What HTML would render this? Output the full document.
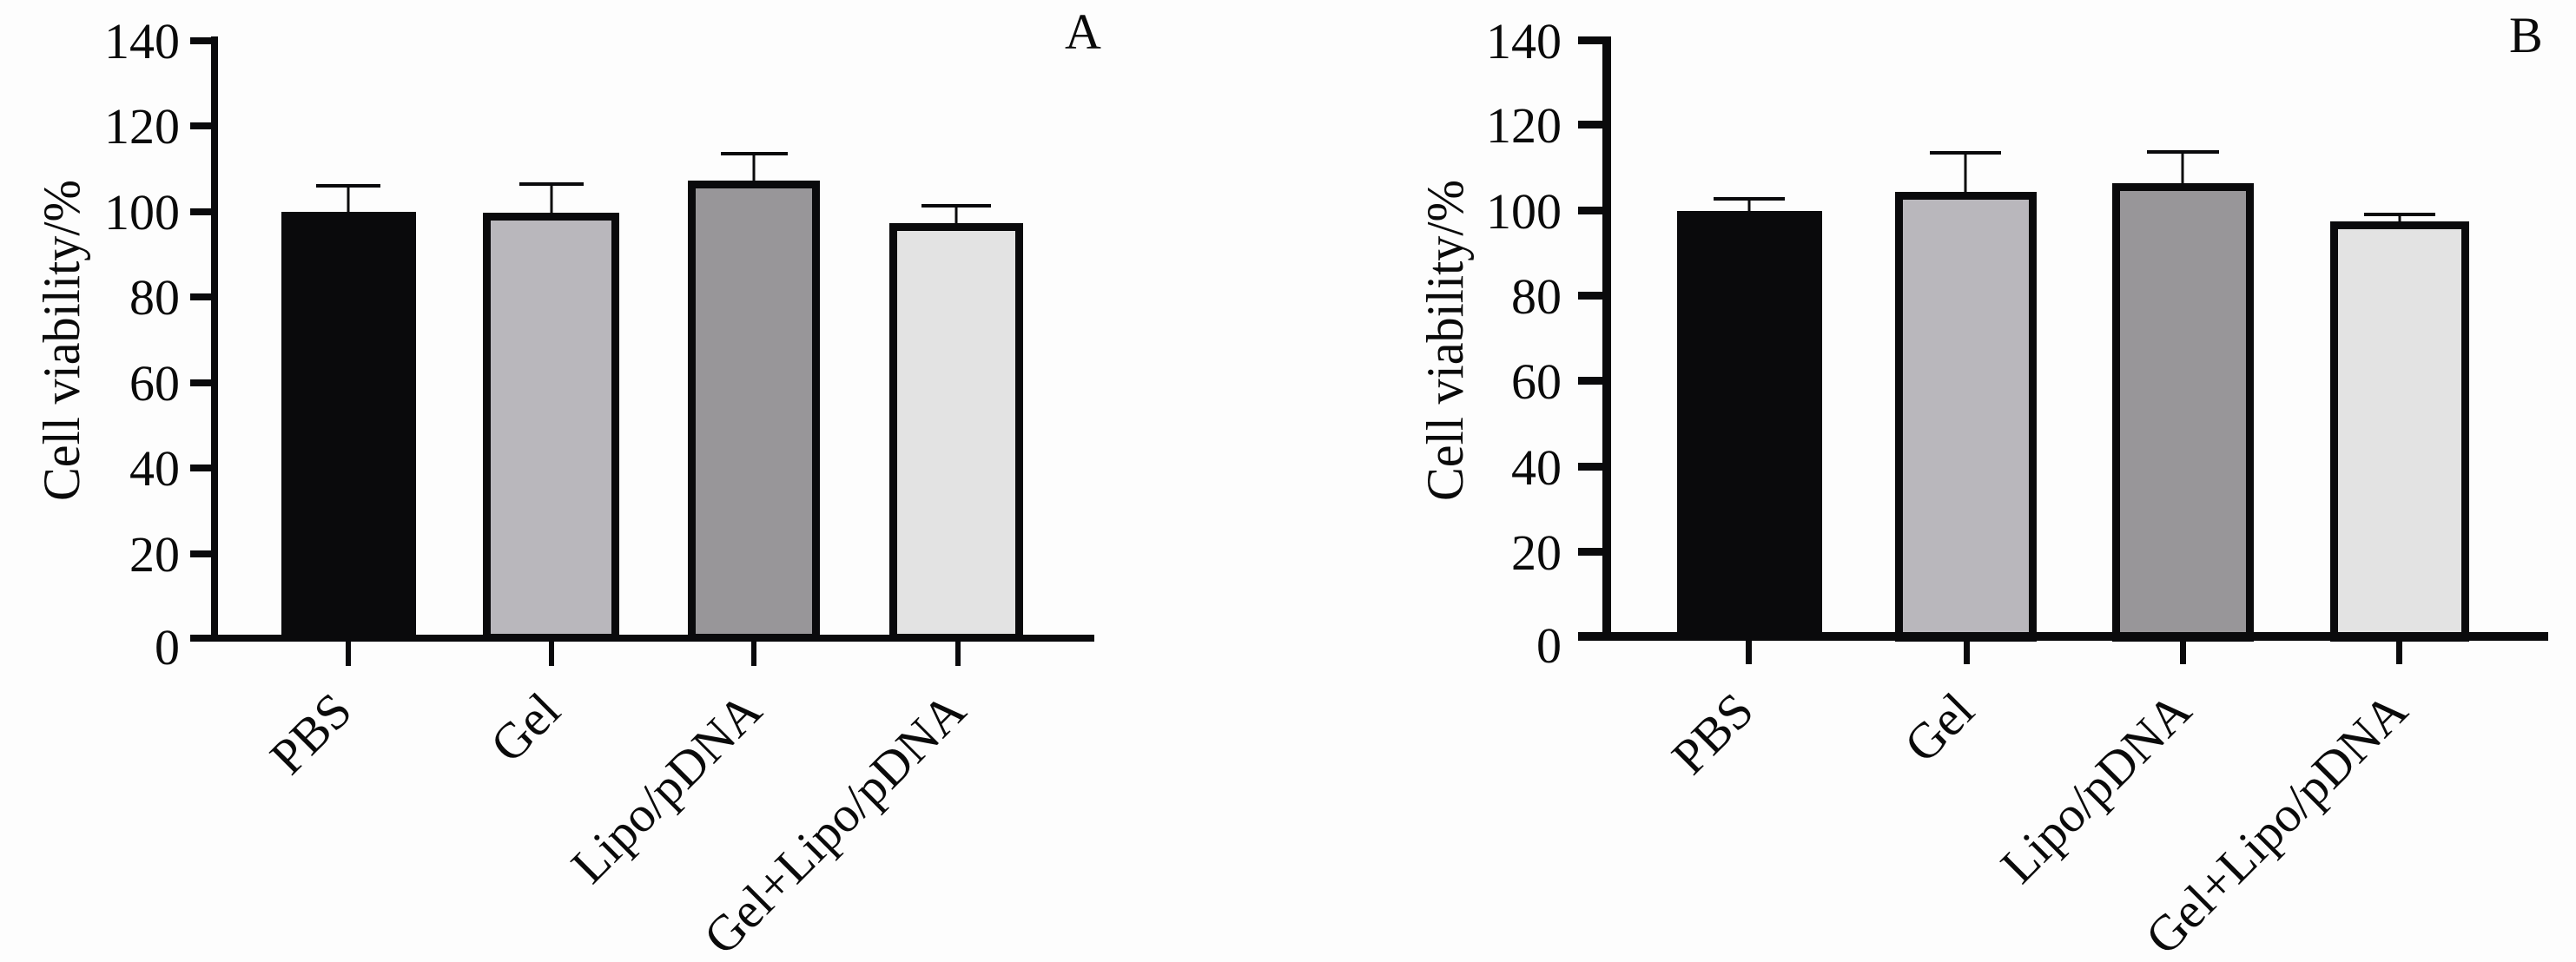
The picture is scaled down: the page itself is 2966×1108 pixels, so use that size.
<!DOCTYPE html>
<html><head><meta charset="utf-8"><style>
html,body{margin:0;padding:0;background:#fdfdfd;}
svg{display:block;}
text{font-family:"Liberation Serif","Times New Roman",serif;fill:#0a0a0a;}
</style></head><body>
<svg width="2966" height="1108" viewBox="0 0 2966 1108" xmlns="http://www.w3.org/2000/svg">
<rect width="2966" height="1108" fill="#fdfdfd"/>

<!-- ===== Panel A ===== -->
<g>
  <!-- bars -->
  <rect x="324" y="244" width="155" height="491" fill="#0a0a0c"/>
  <rect x="560.5" y="249.5" width="148" height="485" fill="#b9b7bc" stroke="#0a0a0c" stroke-width="9"/>
  <rect x="796.5" y="212.5" width="143" height="522" fill="#989699" stroke="#0a0a0c" stroke-width="9"/>
  <rect x="1028.5" y="261.5" width="145" height="473" fill="#e3e3e3" stroke="#0a0a0c" stroke-width="9"/>
  <!-- error bars -->
  <g stroke="#0a0a0c" stroke-width="3">
    <line x1="401" y1="214" x2="401" y2="244"/><line x1="364" y1="214" x2="438" y2="214" stroke-width="4"/>
    <line x1="635" y1="212" x2="635" y2="245"/><line x1="598" y1="212" x2="672" y2="212" stroke-width="4"/>
    <line x1="868" y1="177" x2="868" y2="208"/><line x1="830" y1="177" x2="907" y2="177" stroke-width="4"/>
    <line x1="1101" y1="237" x2="1101" y2="257"/><line x1="1061" y1="237" x2="1141" y2="237" stroke-width="4"/>
  </g>
  <!-- axes -->
  <rect x="243" y="42" width="8" height="697" fill="#0a0a0c"/>
  <rect x="219" y="731" width="1041" height="8" fill="#0a0a0c"/>
  <g fill="#0a0a0c">
    <rect x="219" y="43" width="30" height="8"/>
    <rect x="219" y="141" width="30" height="8"/>
    <rect x="219" y="240" width="30" height="8"/>
    <rect x="219" y="338" width="30" height="8"/>
    <rect x="219" y="437" width="30" height="8"/>
    <rect x="219" y="535" width="30" height="8"/>
    <rect x="219" y="634" width="30" height="8"/>
    <rect x="398" y="736" width="6" height="31"/>
    <rect x="632" y="736" width="6" height="31"/>
    <rect x="865" y="736" width="6" height="31"/>
    <rect x="1100" y="736" width="6" height="31"/>
  </g>
  <g font-size="58" text-anchor="end">
    <text x="207" y="67">140</text>
    <text x="207" y="165">120</text>
    <text x="207" y="264">100</text>
    <text x="207" y="362">80</text>
    <text x="207" y="461">60</text>
    <text x="207" y="559">40</text>
    <text x="207" y="658">20</text>
    <text x="207" y="765">0</text>
  </g>
  <text font-size="60" text-anchor="middle" transform="translate(91,392) rotate(-90)" textLength="370" lengthAdjust="spacingAndGlyphs">Cell viability/%</text>
  <text x="1226" y="56" font-size="58">A</text>
  <g font-size="58" text-anchor="end">
    <text transform="translate(408,822) rotate(-45)">PBS</text>
    <text transform="translate(648,822) rotate(-45)">Gel</text>
    <text transform="translate(880,822) rotate(-45)">Lipo/pDNA</text>
    <text transform="translate(1115,822) rotate(-45)">Gel+Lipo/pDNA</text>
  </g>
</g>

<!-- ===== Panel B ===== -->
<g>
  <rect x="1931" y="243" width="167" height="492" fill="#0a0a0c"/>
  <rect x="2186.5" y="225.5" width="154" height="509" fill="#b9b7bc" stroke="#0a0a0c" stroke-width="9"/>
  <rect x="2436.5" y="215.5" width="154" height="519" fill="#989699" stroke="#0a0a0c" stroke-width="9"/>
  <rect x="2687.5" y="259.5" width="151" height="475" fill="#e3e3e3" stroke="#0a0a0c" stroke-width="9"/>
  <g stroke="#0a0a0c" stroke-width="3">
    <line x1="2014" y1="229" x2="2014" y2="243"/><line x1="1973" y1="229" x2="2055" y2="229" stroke-width="4"/>
    <line x1="2263" y1="176" x2="2263" y2="221"/><line x1="2222" y1="176" x2="2304" y2="176" stroke-width="4"/>
    <line x1="2513" y1="175" x2="2513" y2="211"/><line x1="2472" y1="175" x2="2555" y2="175" stroke-width="4"/>
    <line x1="2763" y1="247" x2="2763" y2="255"/><line x1="2722" y1="247" x2="2804" y2="247" stroke-width="4"/>
  </g>
  <rect x="1845" y="42" width="10" height="696" fill="#0a0a0c"/>
  <rect x="1817" y="728" width="1117" height="10" fill="#0a0a0c"/>
  <g fill="#0a0a0c">
    <rect x="1817" y="42" width="36" height="9"/>
    <rect x="1817" y="139" width="36" height="9"/>
    <rect x="1817" y="238" width="36" height="9"/>
    <rect x="1817" y="336" width="36" height="9"/>
    <rect x="1817" y="434" width="36" height="9"/>
    <rect x="1817" y="533" width="36" height="9"/>
    <rect x="1817" y="631" width="36" height="9"/>
    <rect x="2010" y="736" width="7" height="29"/>
    <rect x="2261" y="736" width="7" height="29"/>
    <rect x="2510" y="736" width="7" height="29"/>
    <rect x="2759" y="736" width="7" height="29"/>
  </g>
  <g font-size="58" text-anchor="end">
    <text x="1798" y="67">140</text>
    <text x="1798" y="164">120</text>
    <text x="1798" y="263">100</text>
    <text x="1798" y="361">80</text>
    <text x="1798" y="459">60</text>
    <text x="1798" y="558">40</text>
    <text x="1798" y="656">20</text>
    <text x="1798" y="763">0</text>
  </g>
  <text font-size="60" text-anchor="middle" transform="translate(1684,392) rotate(-90)" textLength="370" lengthAdjust="spacingAndGlyphs">Cell viability/%</text>
  <text x="2889" y="60" font-size="58">B</text>
  <g font-size="58" text-anchor="end">
    <text transform="translate(2022,822) rotate(-45)">PBS</text>
    <text transform="translate(2276,822) rotate(-45)">Gel</text>
    <text transform="translate(2526,822) rotate(-45)">Lipo/pDNA</text>
    <text transform="translate(2775,822) rotate(-45)">Gel+Lipo/pDNA</text>
  </g>
</g>
</svg>
</body></html>
